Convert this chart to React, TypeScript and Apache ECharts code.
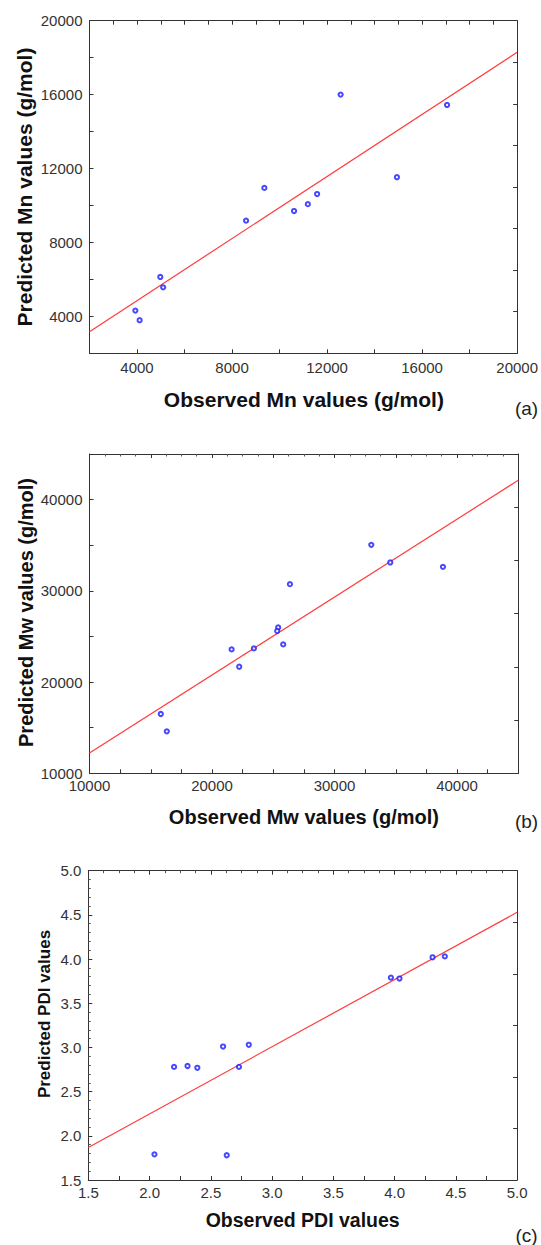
import React, { useEffect, useRef } from "react";
import * as echarts from "echarts";

// ---- Data ----
const mnObserved = [3930, 4110, 4980, 5100, 8590, 9360, 10610, 11190, 11580, 12570, 14940, 17050];
const mnPredicted = [4310, 3790, 6130, 5570, 9180, 10950, 9700, 10070, 10620, 16000, 11530, 15440];
const mnFitX = [2000, 20000];
const mnFitY = [3170, 18290];

const mwObserved = [15820, 16310, 21600, 22220, 23420, 25400, 25320, 25810, 26360, 33000, 34550, 38850];
const mwPredicted = [16500, 14600, 23580, 21680, 23690, 25990, 25590, 24130, 30730, 35040, 33110, 32630];
const mwFitX = [10000, 45000];
const mwFitY = [12230, 42125];

const pdiObserved = [2.04, 2.2, 2.31, 2.39, 2.6, 2.63, 2.73, 2.81, 3.97, 4.04, 4.31, 4.41];
const pdiPredicted = [1.79, 2.78, 2.79, 2.77, 3.01, 1.78, 2.78, 3.03, 3.79, 3.78, 4.02, 4.03];
const pdiFitX = [1.5, 5.0];
const pdiFitY = [1.867, 4.529];

const xTitles = ["Observed Mn values (g/mol)", "Observed Mw values (g/mol)", "Observed PDI values"];
const yTitles = ["Predicted Mn values (g/mol)", "Predicted Mw values (g/mol)", "Predicted PDI values"];
const panelTags = ["(a)", "(b)", "(c)"];

const FONT = '"Liberation Sans", Arial, Helvetica, sans-serif';
const AXIS_COLOR = "#333";

function zip(a: number[], b: number[]) {
  return a.map((v, i) => [v, b[i]]);
}

export default function App() {
  const ref = useRef<HTMLDivElement>(null);

  useEffect(() => {
    document.body.style.margin = "0";
    if (!ref.current) return;
    const chart = echarts.init(ref.current, undefined, { renderer: "svg" });

    const grids = [
      { left: 89.5, top: 20.7, width: 428.8, height: 332.6 },
      { left: 89.5, top: 454, width: 428.8, height: 319.3 },
      { left: 88.3, top: 870.7, width: 428.8, height: 309.3 },
    ];

    const panels = [
      {
        xMin: 2000, xMax: 20000, xInt: 2000, xLab: 4000, xMinor: 0,
        topInt: 1000, topMinor: 0,
        yMin: 2000, yMax: 20000, yInt: 2000, yLab: 4000, yMinor: 0,
        rightMax: 8, xMargin: 7, dec: 0,
      },
      {
        xMin: 10000, xMax: 45000, xInt: 2500, xLab: 10000, xMinor: 0,
        topInt: 5000, topMinor: 4,
        yMin: 10000, yMax: 45000, yInt: 5000, yLab: 10000, yMinor: 0,
        rightMax: 6, xMargin: 5, dec: 0,
      },
      {
        xMin: 1.5, xMax: 5.0, xInt: 0.25, xLab: 0.5, xMinor: 0,
        topInt: 0.5, topMinor: 4,
        yMin: 1.5, yMax: 5.0, yInt: 0.5, yLab: 0.5, yMinor: 5,
        rightMax: 6, xMargin: 5, dec: 1,
      },
    ];

    const isMult = (v: number, m: number) => {
      const r = v / m;
      return Math.abs(r - Math.round(r)) < 1e-6;
    };

    const xAxes: any[] = [];
    const yAxes: any[] = [];
    panels.forEach((p, i) => {
      const common = {
        gridIndex: i,
        type: "value",
        splitLine: { show: false },
        axisLine: { show: true, onZero: false, lineStyle: { color: AXIS_COLOR, width: 1 } },
      };
      const tick = { show: true, inside: true, length: 4, lineStyle: { color: AXIS_COLOR, width: 1 } };
      const minor = (n: number) =>
        n > 0
          ? { show: true, splitNumber: n, length: 2.5, lineStyle: { color: "#555", width: 1 } }
          : { show: false };
      const fmt = (lab: number, dec: number) => (v: number) =>
        isMult(v, lab) ? (dec ? v.toFixed(dec) : String(Math.round(v))) : "";
      xAxes.push({
        ...common,
        position: "bottom",
        min: p.xMin,
        max: p.xMax,
        interval: p.xInt,
        axisTick: tick,
        minorTick: minor(p.xMinor),
        axisLabel: {
          show: true,
          margin: p.xMargin,
          fontSize: 15,
          color: "#333",
          fontFamily: FONT,
          showMaxLabel: true,
          showMinLabel: true,
          formatter: fmt(p.xLab, p.dec),
        },
      });
      xAxes.push({
        ...common,
        position: "top",
        min: p.xMin,
        max: p.xMax,
        interval: p.topInt,
        axisTick: tick,
        minorTick: minor(p.topMinor),
        axisLabel: { show: false },
      });
      yAxes.push({
        ...common,
        position: "left",
        min: p.yMin,
        max: p.yMax,
        interval: p.yInt,
        axisTick: tick,
        minorTick: minor(p.yMinor),
        axisLabel: {
          show: true,
          margin: 7,
          fontSize: 15,
          color: "#333",
          fontFamily: FONT,
          showMaxLabel: true,
          showMinLabel: true,
          formatter: fmt(p.yLab, p.dec),
        },
      });
      yAxes.push({
        ...common,
        position: "right",
        min: 0,
        max: p.rightMax,
        interval: 1,
        axisTick: tick,
        minorTick: { show: false },
        axisLabel: { show: false },
      });
    });

    const datasets = [
      { pts: zip(mnObserved, mnPredicted), fit: zip(mnFitX, mnFitY) },
      { pts: zip(mwObserved, mwPredicted), fit: zip(mwFitX, mwFitY) },
      { pts: zip(pdiObserved, pdiPredicted), fit: zip(pdiFitX, pdiFitY) },
    ];

    const series: any[] = [];
    datasets.forEach((d, i) => {
      series.push({
        type: "line",
        xAxisIndex: 2 * i,
        yAxisIndex: 2 * i,
        data: d.fit,
        showSymbol: false,
        symbol: "none",
        lineStyle: { color: "#ff3c3c", width: 1.2 },
        silent: true,
        z: 2,
      });
      series.push({
        type: "scatter",
        xAxisIndex: 2 * i,
        yAxisIndex: 2 * i,
        data: d.pts,
        symbol: "emptyCircle",
        symbolSize: 4.2,
        itemStyle: { color: "#1a1aff", borderColor: "#1a1aff", borderWidth: 1.4 },
        z: 3,
      });
    });

    const xTitleY = [399, 816.7, 1220];
    const xTitleSize = [21, 20, 19.5];
    const yTitlePos = [
      { x: 24, y: 187, size: 21 },
      { x: 26, y: 612.5, size: 20 },
      { x: 44, y: 1014, size: 17 },
    ];
    const tagY = [408, 821.7, 1235];

    const graphic: any[] = [];
    for (let i = 0; i < 3; i++) {
      const g = grids[i];
      graphic.push({
        type: "text",
        x: g.left + g.width / 2,
        y: xTitleY[i],
        style: {
          text: xTitles[i],
          font: `bold ${xTitleSize[i]}px ${FONT}`,
          fill: "#111",
          align: "center",
          verticalAlign: "middle",
        },
      });
      graphic.push({
        type: "text",
        x: yTitlePos[i].x,
        y: yTitlePos[i].y,
        rotation: Math.PI / 2,
        style: {
          text: yTitles[i],
          font: `bold ${yTitlePos[i].size}px ${FONT}`,
          fill: "#111",
          align: "center",
          verticalAlign: "middle",
        },
      });
      graphic.push({
        type: "text",
        x: 526.5,
        y: tagY[i],
        style: {
          text: panelTags[i],
          font: `19px ${FONT}`,
          fill: "#222",
          align: "center",
          verticalAlign: "middle",
        },
      });
    }

    chart.setOption({
      animation: false,
      backgroundColor: "#ffffff",
      textStyle: { fontFamily: FONT },
      grid: grids.map((g) => ({ ...g, containLabel: false })),
      xAxis: xAxes,
      yAxis: yAxes,
      series,
      graphic,
    });

    return () => {
      chart.dispose();
    };
  }, []);

  return <div ref={ref} style={{ width: 541, height: 1245 }} />;
}
